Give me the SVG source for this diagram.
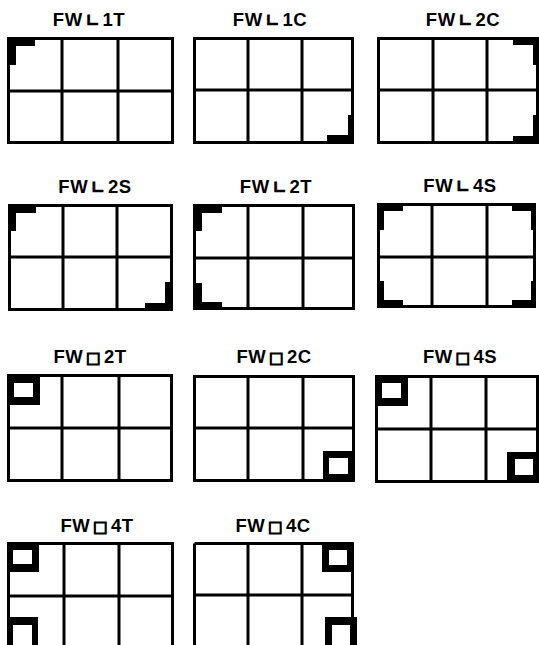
<svg xmlns="http://www.w3.org/2000/svg" width="539" height="645" viewBox="0 0 539 645">
<style>
.g{fill:none;stroke:#000;stroke-width:3}
.m{fill:#000}
.w{fill:#fff}
.t{font-family:"Liberation Sans",Arial,sans-serif;font-weight:bold;font-size:18.5px;text-anchor:middle;fill:#000;letter-spacing:0.5px}
.s{font-family:"DejaVu Sans",sans-serif;font-weight:bold;font-size:16px;stroke:#000;stroke-width:0.8}
.q{font-family:"DejaVu Sans",sans-serif;font-size:15px;stroke:#000;stroke-width:1.2}
</style>
<rect width="539" height="645" fill="#fff"/>
<g id="p1">
<text class="t" x="89" y="26">FW<tspan class="s" dx="3">∟</tspan><tspan dx="3">1T</tspan></text>
<path class="g" d="M8.5,38.5H172.5V142.5H8.5Z M62,38.5V142.5 M118,38.5V142.5 M8.5,91H172.5"/>
<path class="m" d="M7,37H35V46H16V65H7Z"/>
</g>
<g id="p2">
<text class="t" x="270" y="26">FW<tspan class="s" dx="3">∟</tspan><tspan dx="3">1C</tspan></text>
<path class="g" d="M194.5,38.5H352.5V142.5H194.5Z M248,38.5V142.5 M302,38.5V142.5 M194.5,90H352.5"/>
<path class="m" d="M354,144H327V135H348V115H354Z"/>
</g>
<g id="p3">
<text class="t" x="463" y="26">FW<tspan class="s" dx="3">∟</tspan><tspan dx="3">2C</tspan></text>
<path class="g" d="M378.5,38.5H537.5V142.5H378.5Z M433,38.5V142.5 M487,38.5V142.5 M378.5,90H537.5"/>
<path class="m" d="M539,37H513V45H533V65H539Z"/>
<path class="m" d="M539,144H513V136H533V115H539Z"/>
</g>
<g id="p4">
<text class="t" x="95" y="193">FW<tspan class="s" dx="3">∟</tspan><tspan dx="3">2S</tspan></text>
<path class="g" d="M9.5,205.5H171.5V309.5H9.5Z M63,205.5V309.5 M117,205.5V309.5 M9.5,257H171.5"/>
<path class="m" d="M8,204H36V213H16V231H8Z"/>
<path class="m" d="M173,311H145V303H165V282H173Z"/>
</g>
<g id="p5">
<text class="t" x="276" y="193">FW<tspan class="s" dx="3">∟</tspan><tspan dx="3">2T</tspan></text>
<path class="g" d="M194.5,205.5H353.5V308.5H194.5Z M248,205.5V308.5 M303,205.5V308.5 M194.5,258H353.5"/>
<path class="m" d="M193,204H222V213H202V231H193Z"/>
<path class="m" d="M193,310H222V302H202V283H193Z"/>
</g>
<g id="p6">
<text class="t" x="460" y="192">FW<tspan class="s" dx="3">∟</tspan><tspan dx="3">4S</tspan></text>
<path class="g" d="M378.5,204.5H534.5V306.5H378.5Z M432,204.5V306.5 M487,204.5V306.5 M378.5,257H534.5"/>
<path class="m" d="M377,203H403V211H384V230H377Z"/>
<path class="m" d="M536,203H512V211H531V230H536Z"/>
<path class="m" d="M377,308H403V300H384V281H377Z"/>
<path class="m" d="M536,308H512V300H531V281H536Z"/>
</g>
<g id="p7">
<text class="t" x="90" y="363">FW<tspan class="q" dx="3">□</tspan><tspan dx="3">2T</tspan></text>
<path class="g" d="M8.5,375.5H171.5V480.5H8.5Z M62,375.5V480.5 M119,375.5V480.5 M8.5,428H171.5"/>
<rect class="m" x="7" y="374" width="33" height="31"/>
<rect class="w" x="14" y="383" width="19" height="14"/>
</g>
<g id="p8">
<text class="t" x="274" y="363">FW<tspan class="q" dx="3">□</tspan><tspan dx="3">2C</tspan></text>
<path class="g" d="M194.5,376.5H353.5V480.5H194.5Z M248,376.5V480.5 M303,376.5V480.5 M194.5,428H353.5"/>
<rect class="m" x="323" y="451" width="32" height="31"/>
<rect class="w" x="329" y="458" width="19" height="16"/>
</g>
<g id="p9">
<text class="t" x="460" y="363">FW<tspan class="q" dx="3">□</tspan><tspan dx="3">4S</tspan></text>
<path class="g" d="M376.5,376.5H537.5V481.5H376.5Z M431,376.5V481.5 M486,376.5V481.5 M376.5,429H537.5"/>
<rect class="m" x="375" y="375" width="33" height="31"/>
<rect class="w" x="382" y="383" width="19" height="15"/>
<rect class="m" x="507" y="452" width="32" height="31"/>
<rect class="w" x="515" y="459" width="18" height="16"/>
</g>
<g id="p10">
<text class="t" x="97" y="532">FW<tspan class="q" dx="3">□</tspan><tspan dx="3">4T</tspan></text>
<path class="g" d="M8.5,543.5H172.5V660 M8.5,543.5V660 M64,543.5V660 M119,543.5V660 M8.5,596H172.5"/>
<rect class="m" x="7" y="542" width="32" height="30"/>
<rect class="w" x="13" y="550" width="19" height="14"/>
<rect class="m" x="7" y="617" width="31" height="40"/>
<rect class="w" x="13" y="625" width="19" height="30"/>
</g>
<g id="p11">
<text class="t" x="273" y="532">FW<tspan class="q" dx="3">□</tspan><tspan dx="3">4C</tspan></text>
<path class="g" d="M194.5,543.5H352.5V660 M194.5,543.5V660 M248,543.5V660 M302,543.5V660 M194.5,595H352.5"/>
<rect class="m" x="322" y="542" width="32" height="30"/>
<rect class="w" x="329" y="550" width="18" height="15"/>
<rect class="m" x="325" y="617" width="32" height="40"/>
<rect class="w" x="332" y="625" width="18" height="30"/>
</g>
</svg>
